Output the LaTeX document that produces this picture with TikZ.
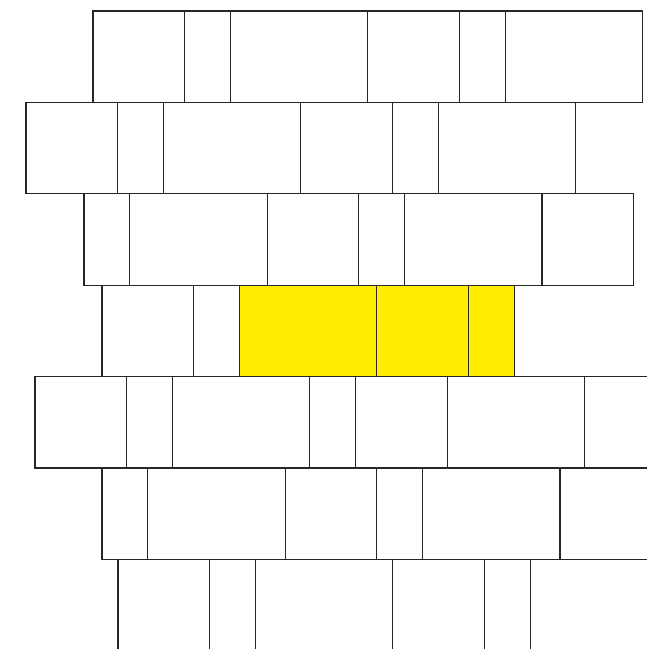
\documentclass[tikz,border=0pt]{standalone}
\usepackage{tikz}
\definecolor{brickyellow}{RGB}{255,236,0}

\begin{document}
\begin{tikzpicture}[
        x=1pt, y=-1pt,
        % Kiểu dáng chung
        brick/.style={draw=black!85, line width=1.2pt},
        hot/.style={brick, fill=brickyellow}
    ]
        % Khung hình
        \useasboundingbox (0,0) rectangle (647,649);
        \clip (0,0) rectangle (647,649);

        % Hàng 1
        \foreach \x/\w in {93/91.6, 184.6/45.8, 230.4/137.4, 367.8/91.6, 459.4/45.8, 505.2/137.4}
            \draw[brick] (\x,11) rectangle ++(\w,91.4);
        % Hàng 2
        \foreach \x/\w in {26/91.6, 117.6/45.8, 163.4/137.4, 300.8/91.6, 392.4/45.8, 438.2/137.4}
            \draw[brick] (\x,102.4) rectangle ++(\w,91.4);
        % Hàng 3
        \foreach \x/\w in {84/45.8, 129.8/137.4, 267.2/91.6, 358.8/45.8, 404.6/137.4, 542/91.6}
            \draw[brick] (\x,193.8) rectangle ++(\w,91.4);
        % Hàng 4 (có các ô tô màu)
        \foreach \x/\w in {102/91.6, 193.6/45.8}
            \draw[brick] (\x,285.2) rectangle ++(\w,91.4);
        \foreach \x/\w in {239.4/137.4, 376.8/91.6, 468.4/45.8}
            \draw[hot] (\x,285.2) rectangle ++(\w,91.4);
        % Hàng 5
        \foreach \x/\w in {35/91.6, 126.6/45.8, 172.4/137.4, 309.8/45.8, 355.6/91.6, 447.2/137.4, 584.6/91.6}
            \draw[brick] (\x,376.6) rectangle ++(\w,91.4);
        % Hàng 6
        \foreach \x/\w in {102/45.8, 147.8/137.4, 285.2/91.6, 376.8/45.8, 422.6/137.4, 560/91.6}
            \draw[brick] (\x,468) rectangle ++(\w,91.4);
        % Hàng 7
        \foreach \x/\w in {118/91.6, 209.6/45.8, 255.4/137.4, 392.8/91.6, 484.4/45.8, 530.2/137.4}
            \draw[brick] (\x,559.4) rectangle ++(\w,91.4);

    \end{tikzpicture}
\end{document}
